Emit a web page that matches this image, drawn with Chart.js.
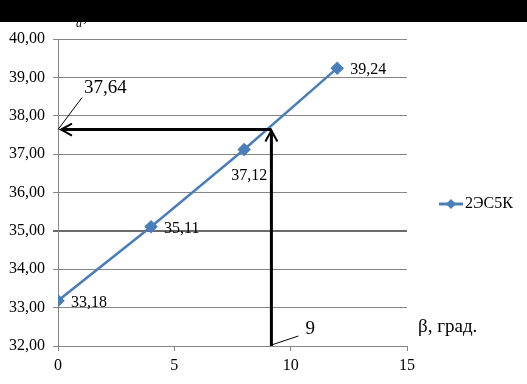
<!DOCTYPE html>
<html lang="ru">
  <head>
    <meta charset="UTF-8" />
    <title>2ЭС5К</title>
    <script src="https://cdn.jsdelivr.net/npm/chart.js"></script>
    <style>
      body { margin: 0; background: #fff; }
      #wrap { position: relative; width: 527px; height: 384px; }
      #topBar { position: absolute; left: 0; top: 0; width: 527px; height: 22px; background: #000; }
    </style>
  </head>
  <body>
    <div id="wrap">
      <canvas id="chart" width="527" height="384"></canvas>
      <div id="topBar"></div>
    </div>
    <script>
      // data
      const betaValues = [0, 4, 8, 12];
      const forceValues = [33.18, 35.11, 37.12, 39.24];
      const pointLabels = ["33,18", "35,11", "37,12", "39,24"];
      const seriesName = "2ЭС5К";
      const markBeta = 9;
      const markForce = 37.64;

      const serif = "'Liberation Serif', 'Times New Roman', serif";
      const blue = "#4a7ebb";

      // annotations: labels, arrows, legend, axis titles
      const overlay = {
        id: "overlay",
        afterDatasetsDraw(chart) {
          const ctx = chart.ctx;
          const xs = chart.scales.x, ys = chart.scales.y;
          ctx.save();
          ctx.fillStyle = "#000";
          ctx.font = "16px " + serif;
          ctx.textBaseline = "middle";
          // point labels
          const offs = [[13, 2], [13, 2], [-13, 26], [13, 2]];
          forceValues.forEach((v, i) => {
            const px = xs.getPixelForValue(betaValues[i]);
            const py = ys.getPixelForValue(v);
            ctx.textAlign = "left";
            ctx.fillText(pointLabels[i], px + offs[i][0], py + offs[i][1]);
          });

          // arrows (hand drawn in the original, a little right of the 9 mark)
          const x0 = xs.getPixelForValue(0);
          const xm = xs.getPixelForValue(markBeta) + 4;
          const ym = ys.getPixelForValue(markForce);
          const yb = ys.getPixelForValue(32);
          ctx.strokeStyle = "#000";
          ctx.lineWidth = 3;
          ctx.beginPath();
          ctx.moveTo(xm, yb);
          ctx.lineTo(xm, ym + 1);
          ctx.moveTo(xm, ym);
          ctx.lineTo(x0 + 3, ym);
          ctx.stroke();
          ctx.lineWidth = 2;
          ctx.beginPath();
          ctx.moveTo(xm - 6, ym + 12);
          ctx.lineTo(xm, ym + 1);
          ctx.lineTo(xm + 6, ym + 12);
          ctx.moveTo(x0 + 14, ym - 6);
          ctx.lineTo(x0 + 3, ym);
          ctx.lineTo(x0 + 14, ym + 6);
          ctx.stroke();

          // callout leaders
          ctx.lineWidth = 1;
          ctx.beginPath();
          ctx.moveTo(x0, ym);
          ctx.lineTo(x0 + 24, ym - 32);
          ctx.moveTo(xm, yb - 1);
          ctx.lineTo(xm + 27, yb - 10);
          ctx.stroke();
          ctx.font = "19px " + serif;
          ctx.textAlign = "left";
          ctx.fillText("37,64", x0 + 26, ym - 42);
          ctx.fillText("9", xm + 34, yb - 17);

          // axis titles
          ctx.fillText("β, град.", 418, 327);
          ctx.fillText("Н", 63, 16);
          ctx.font = "italic 12px " + serif;
          ctx.fillText("а", 76, 24);
          ctx.font = "19px " + serif;
          ctx.fillText(", кН", 83, 16);

          // legend
          const ly = 204;
          ctx.strokeStyle = blue;
          ctx.lineWidth = 3;
          ctx.beginPath();
          ctx.moveTo(439, ly);
          ctx.lineTo(463, ly);
          ctx.stroke();
          ctx.fillStyle = blue;
          ctx.beginPath();
          ctx.moveTo(451, ly - 5);
          ctx.lineTo(456, ly);
          ctx.lineTo(451, ly + 5);
          ctx.lineTo(446, ly);
          ctx.closePath();
          ctx.fill();
          ctx.fillStyle = "#000";
          ctx.font = "16px " + serif;
          ctx.fillText(seriesName, 465, ly);
          ctx.restore();
        },
      };

      new Chart(document.getElementById("chart"), {
        type: "line",
        data: {
          datasets: [
            {
              label: seriesName,
              data: betaValues.map((b, i) => ({ x: b, y: forceValues[i] })),
              borderColor: blue,
              backgroundColor: blue,
              borderWidth: 2.5,
              pointStyle: "rectRot",
              pointRadius: 5,
              pointHoverRadius: 5,
              tension: 0,
            },
          ],
        },
        options: {
          responsive: false,
          animation: false,
          layout: { padding: { top: 39, right: 120, left: 1, bottom: 0 } },
          plugins: { legend: { display: false }, tooltip: { enabled: false } },
          scales: {
            x: {
              type: "linear",
              min: 0,
              max: 15,
              ticks: {
                stepSize: 5,
                padding: 5,
                color: "#000",
                font: { family: serif, size: 16 },
              },
              grid: {
                display: true,
                drawOnChartArea: false,
                tickLength: 5,
                color: "#868686",
              },
              border: { color: "#868686" },
              afterFit(s) { s.height = 38; },
            },
            y: {
              min: 32,
              max: 40,
              ticks: {
                stepSize: 1,
                padding: 8,
                color: "#000",
                font: { family: serif, size: 16 },
                callback: (v) => v.toFixed(2).replace(".", ","),
              },
              grid: {
                tickLength: 5,
                color: (c) => (c.tick && c.tick.value === 35 ? "#6a6a6a" : "#868686"),
                lineWidth: (c) => (c.tick && c.tick.value === 35 ? 2 : 1),
              },
              border: { color: "#868686" },
              afterFit(s) { s.width = 57; },
            },
          },
        },
        plugins: [overlay],
      });
    </script>
  </body>
</html>
